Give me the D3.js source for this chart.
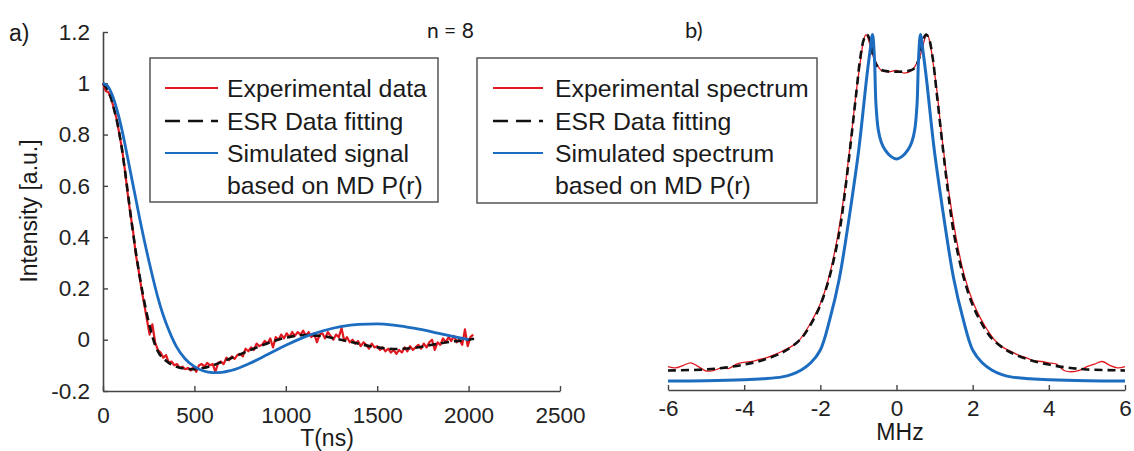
<!DOCTYPE html>
<html><head><meta charset="utf-8">
<script src="https://cdn.jsdelivr.net/npm/d3@7"></script>
<style>
html,body{margin:0;padding:0;background:#fff;}
svg{display:block;font-family:"Liberation Sans",Arial,sans-serif;}
</style></head>
<body><svg id="c" width="1134" height="451"></svg>
<script>
// ---------- Panel a) : time domain ----------
const timeTicks = [0, 500, 1000, 1500, 2000, 2500];
const timeTickLabels = ["0", "500", "1000", "1500", "2000", "2500"];
const intensityTicks = [-0.2, 0, 0.2, 0.4, 0.6, 0.8, 1, 1.2];
const intensityTickLabels = ["-0.2", "0", "0.2", "0.4", "0.6", "0.8", "1", "1.2"];

// experimental signal [T (ns), intensity]
const expSignal = [
[0,1.0],[15,0.97],[30,0.965],[45,0.94],[60,0.9],[75,0.86],[90,0.8],[105,0.74],[120,0.66],[135,0.57],
[150,0.49],[165,0.42],[180,0.33],[195,0.27],[210,0.2],[225,0.14],[240,0.08],[255,0.02],[270,0.06],[285,-0.01],
[300,-0.04],[315,-0.05],[330,-0.07],[345,-0.06],[360,-0.09],[375,-0.085],[390,-0.1],[405,-0.095],[420,-0.11],[435,-0.105],
[450,-0.115],[465,-0.11],[480,-0.12],[495,-0.105],[510,-0.125],[525,-0.1],[540,-0.095],[555,-0.105],[570,-0.09],[585,-0.1],
[600,-0.095],[615,-0.125],[630,-0.09],[645,-0.085],[660,-0.095],[675,-0.07],[690,-0.08],[705,-0.065],[720,-0.075],[735,-0.06],
[750,-0.055],[765,-0.065],[780,-0.035],[795,-0.045],[810,-0.03],[825,-0.04],[840,-0.015],[855,-0.025],[870,-0.02],[885,-0.005],
[900,-0.015],[915,0.005],[930,-0.03],[945,0.01],[960,0.0],[975,0.02],[990,0.005],[1005,0.025],[1020,0.01],[1035,0.03],
[1050,0.015],[1065,0.03],[1080,0.02],[1095,0.035],[1110,0.015],[1125,0.03],[1140,0.01],[1155,0.025],[1170,-0.01],[1185,0.02],
[1200,0.025],[1215,0.005],[1230,0.03],[1245,0.015],[1260,0.0],[1275,0.02],[1290,0.01],[1305,0.045],[1320,-0.005],[1335,0.01],
[1350,-0.01],[1365,0.0],[1380,-0.015],[1395,-0.005],[1410,-0.025],[1425,-0.01],[1440,-0.02],[1455,-0.035],[1470,-0.015],[1485,-0.03],
[1500,-0.025],[1515,-0.04],[1530,-0.03],[1545,-0.045],[1560,-0.035],[1575,-0.05],[1590,-0.04],[1605,-0.055],[1620,-0.04],[1635,-0.05],
[1650,-0.03],[1665,-0.045],[1680,-0.025],[1695,-0.04],[1710,-0.03],[1725,-0.02],[1740,-0.035],[1755,-0.015],[1770,-0.03],[1785,-0.01],
[1800,0.0],[1815,-0.04],[1830,-0.01],[1845,-0.02],[1860,0.005],[1875,-0.01],[1890,0.01],[1905,-0.005],[1920,0.015],[1935,-0.01],
[1950,0.0],[1965,-0.02],[1980,0.04],[1995,-0.025],[2010,0.01],[2025,0.02]
];
// ESR fit
const fitSignal = [
[0,1.0],[20,0.98],[40,0.95],[60,0.9],[80,0.84],[100,0.76],[120,0.66],[140,0.55],[160,0.44],[180,0.34],
[200,0.25],[220,0.17],[240,0.1],[260,0.04],[280,-0.01],[300,-0.045],[350,-0.085],[400,-0.105],[450,-0.113],[500,-0.115],
[550,-0.11],[600,-0.1],[700,-0.072],[800,-0.042],[900,-0.014],[1000,0.008],[1100,0.018],[1200,0.014],[1300,0.0],[1400,-0.016],
[1500,-0.03],[1600,-0.036],[1700,-0.032],[1800,-0.02],[1900,-0.008],[2000,0.0],[2030,0.004]
];
// Simulated signal based on MD P(r)
const simSignal = [
[0,1.0],[25,0.99],[50,0.955],[75,0.9],[100,0.83],[125,0.745],[150,0.655],[175,0.565],[200,0.475],[225,0.39],
[250,0.31],[275,0.235],[300,0.165],[325,0.105],[350,0.055],[375,0.012],[400,-0.025],[450,-0.075],[500,-0.105],[550,-0.122],
[600,-0.128],[650,-0.127],[700,-0.12],[800,-0.093],[900,-0.058],[1000,-0.022],[1100,0.01],[1200,0.034],[1300,0.051],[1400,0.06],
[1500,0.062],[1600,0.056],[1700,0.045],[1800,0.031],[1900,0.015],[2000,0.0]
];

// ---------- Panel b) : frequency domain ----------
const freqTicks = [-6, -4, -2, 0, 2, 4, 6];
const freqTickLabels = ["-6", "-4", "-2", "0", "2", "4", "6"];
const expSpectrum = [
[-6.0,-0.105],[-5.8,-0.11],[-5.6,-0.1],[-5.4,-0.09],[-5.2,-0.105],[-5.0,-0.122],[-4.8,-0.12],[-4.6,-0.11],[-4.4,-0.112],[-4.2,-0.095],
[-4.0,-0.088],[-3.8,-0.085],[-3.6,-0.077],[-3.4,-0.07],[-3.2,-0.058],[-3.0,-0.045],[-2.8,-0.03],[-2.6,-0.01],[-2.4,0.03],[-2.2,0.08],
[-2.0,0.14],[-1.8,0.23],[-1.6,0.36],[-1.4,0.54],[-1.2,0.78],[-1.0,1.03],[-0.8,1.19],[-0.6,1.1],[-0.4,1.05],[-0.2,1.045],
[0.0,1.05],[0.2,1.04],[0.4,1.05],[0.6,1.1],[0.8,1.19],[1.0,1.04],[1.2,0.78],[1.4,0.55],[1.6,0.37],[1.8,0.24],
[2.0,0.15],[2.2,0.085],[2.4,0.035],[2.6,-0.005],[2.8,-0.03],[3.0,-0.045],[3.2,-0.06],[3.4,-0.07],[3.6,-0.082],[3.8,-0.085],
[4.0,-0.09],[4.2,-0.095],[4.4,-0.12],[4.6,-0.125],[4.8,-0.12],[5.0,-0.105],[5.2,-0.095],[5.4,-0.085],[5.6,-0.1],[5.8,-0.11],[6.0,-0.105]
];
const fitSpectrum = [
[-6,-0.12],[-5,-0.116],[-4.5,-0.109],[-4,-0.097],[-3.5,-0.079],[-3,-0.05],[-2.75,-0.027],[-2.5,0.005],[-2.25,0.06],[-2.0,0.135],
[-1.75,0.25],[-1.5,0.42],[-1.35,0.58],[-1.2,0.77],[-1.05,0.97],[-0.95,1.1],[-0.85,1.175],[-0.78,1.19],[-0.7,1.17],[-0.6,1.1],
[-0.5,1.065],[-0.4,1.052],[-0.2,1.046],[0,1.045],[0.2,1.046],[0.4,1.052],[0.5,1.065],[0.6,1.1],[0.7,1.17],[0.78,1.19],
[0.85,1.175],[0.95,1.1],[1.05,0.97],[1.2,0.77],[1.35,0.58],[1.5,0.42],[1.75,0.25],[2.0,0.135],[2.25,0.06],[2.5,0.005],
[2.75,-0.027],[3,-0.05],[3.5,-0.079],[4,-0.097],[4.5,-0.109],[5,-0.116],[6,-0.12]
];
const simSpectrum = [
[-6,-0.161],[-5,-0.16],[-4,-0.156],[-3.5,-0.152],[-3,-0.145],[-2.75,-0.135],[-2.5,-0.118],[-2.25,-0.09],[-2.0,-0.04],[-1.75,0.08],
[-1.5,0.24],[-1.3,0.42],[-1.15,0.57],[-1.0,0.73],[-0.9,0.86],[-0.8,1.0],[-0.7,1.12],[-0.63,1.19],[-0.58,1.1],[-0.54,0.92],
[-0.48,0.82],[-0.4,0.77],[-0.3,0.74],[-0.15,0.715],[0,0.705],[0.15,0.715],[0.3,0.74],[0.4,0.77],[0.48,0.82],[0.54,0.92],
[0.58,1.1],[0.63,1.19],[0.7,1.12],[0.8,1.0],[0.9,0.86],[1.0,0.73],[1.15,0.57],[1.3,0.42],[1.5,0.24],[1.75,0.08],
[2.0,-0.04],[2.25,-0.09],[2.5,-0.118],[2.75,-0.135],[3,-0.145],[3.5,-0.152],[4,-0.156],[5,-0.16],[6,-0.161]
];

const legendA = ["Experimental data", "ESR Data fitting", "Simulated signal", "based on MD P(r)"];
const legendB = ["Experimental spectrum", "ESR Data fitting", "Simulated spectrum", "based on MD P(r)"];

const RED = "#e0181f", BLACK = "#111", BLUE = "#1c6cc0", AXIS = "#444";
const svg = d3.select("#c");

// ---------- scales ----------
const xA = d3.scaleLinear().domain([0, 2500]).range([103, 560]);
const yA = d3.scaleLinear().domain([-0.2, 1.2]).range([391, 32]);
const xB = d3.scaleLinear().domain([-6, 6]).range([668, 1125]);
const yB = d3.scaleLinear().domain([-0.2, 1.2]).range([391, 32]);

// ---------- panel a axes ----------
const gA = svg.append("g");
const axX = gA.append("g").attr("transform", `translate(0,${yA(-0.2)})`)
  .call(d3.axisBottom(xA).tickValues(timeTicks).tickFormat((d,i)=>timeTickLabels[i]).tickSizeInner(-5).tickSizeOuter(0).tickPadding(18));
const axY = gA.append("g").attr("transform", `translate(${xA(0)},0)`)
  .call(d3.axisLeft(yA).tickValues(intensityTicks).tickFormat((d,i)=>intensityTickLabels[i]).tickSizeInner(-5).tickSizeOuter(0).tickPadding(13));
[axX, axY].forEach(a=>{
  a.select(".domain").attr("stroke", AXIS).attr("stroke-width", 1.6);
  a.selectAll(".tick line").attr("stroke", AXIS).attr("stroke-width", 1.4);
  a.selectAll("text").attr("font-size", 22.5).attr("fill", "#222").attr("font-family", "Liberation Sans, Arial, sans-serif");
});
axX.selectAll(".tick text").attr("dy", "0.71em").attr("y", 16);

const lineA = d3.line().x(d=>xA(d[0])).y(d=>yA(d[1]));
gA.append("path").datum(expSignal).attr("d", lineA.curve(d3.curveLinear)).attr("fill","none").attr("stroke",RED).attr("stroke-width",2.2).attr("stroke-linejoin","round");
gA.append("path").datum(fitSignal).attr("d", d3.line().x(d=>xA(d[0])).y(d=>yA(d[1])).curve(d3.curveMonotoneX)).attr("fill","none").attr("stroke",BLACK).attr("stroke-width",2.6).attr("stroke-dasharray","8,5");
gA.append("path").datum(simSignal).attr("d", d3.line().x(d=>xA(d[0])).y(d=>yA(d[1])).curve(d3.curveMonotoneX)).attr("fill","none").attr("stroke",BLUE).attr("stroke-width",2.8);

// ---------- panel b axes ----------
const gB = svg.append("g");
const axXB = gB.append("g").attr("transform", `translate(0,390)`)
  .call(d3.axisBottom(xB).tickValues(freqTicks).tickFormat((d,i)=>freqTickLabels[i]).tickSizeInner(-5).tickSizeOuter(0).tickPadding(12));
axXB.select(".domain").attr("stroke", AXIS).attr("stroke-width", 1.6);
axXB.selectAll(".tick line").attr("stroke", AXIS).attr("stroke-width", 1.4);
axXB.selectAll("text").attr("font-size", 22.5).attr("fill", "#222").attr("font-family", "Liberation Sans, Arial, sans-serif").attr("y", 10);

const smoothB = d3.line().x(d=>xB(d[0])).y(d=>yB(d[1])).curve(d3.curveCatmullRom.alpha(0.5));
gB.append("path").datum(expSpectrum).attr("d", smoothB).attr("fill","none").attr("stroke",RED).attr("stroke-width",1.3);
gB.append("path").datum(fitSpectrum).attr("d", smoothB).attr("fill","none").attr("stroke",BLACK).attr("stroke-width",2.6).attr("stroke-dasharray","8,5");
gB.append("path").datum(simSpectrum).attr("d", smoothB).attr("fill","none").attr("stroke",BLUE).attr("stroke-width",3);

// ---------- legends ----------
function legend(x0, y0, w, h, lx1, lx2, tx, labels){
  const g = svg.append("g");
  g.append("rect").attr("x", x0).attr("y", y0).attr("width", w).attr("height", h)
    .attr("fill", "#fff").attr("stroke", "#555").attr("stroke-width", 1.5);
  const cols = [RED, BLACK, BLUE];
  const rowY = [88, 121, 153];
  cols.forEach((c,i)=>{
    g.append("line").attr("x1", lx1).attr("x2", lx2).attr("y1", rowY[i]).attr("y2", rowY[i])
      .attr("stroke", c).attr("stroke-width", i===1?2.4:2.2).attr("stroke-dasharray", i===1?"15,8":null);
  });
  const base = [97, 129.5, 162, 194];
  labels.forEach((t,i)=>{
    g.append("text").attr("x", tx).attr("y", base[i]).attr("font-size", 24.8).attr("fill", "#1a1a1a").text(t);
  });
}
legend(150, 58, 288, 144, 165, 218, 227, legendA);
legend(477, 58, 340, 145, 493, 543, 555, legendB);

// ---------- labels ----------
svg.append("text").attr("x", 327).attr("y", 446).attr("text-anchor","middle").attr("font-size", 23).attr("fill","#1a1a1a").text("T(ns)");
svg.append("text").attr("x", 900).attr("y", 440).attr("text-anchor","middle").attr("font-size", 23).attr("fill","#1a1a1a").text("MHz");
svg.append("text").attr("transform","translate(37,211) rotate(-90)").attr("text-anchor","middle").attr("font-size", 23).attr("fill","#1a1a1a").text("Intensity [a.u.]");
svg.append("text").attr("x", 9).attr("y", 41).attr("font-size", 23).attr("fill","#1a1a1a").text("a)");
svg.append("text").attr("x", 427).attr("y", 38).attr("font-size", 21).attr("font-family","Lato, sans-serif").attr("fill","#1a1a1a").text("n = 8");
svg.append("text").attr("x", 685).attr("y", 38).attr("font-size", 22).attr("font-family","Lato, sans-serif").attr("fill","#1a1a1a").text("b)");
</script></body></html>
